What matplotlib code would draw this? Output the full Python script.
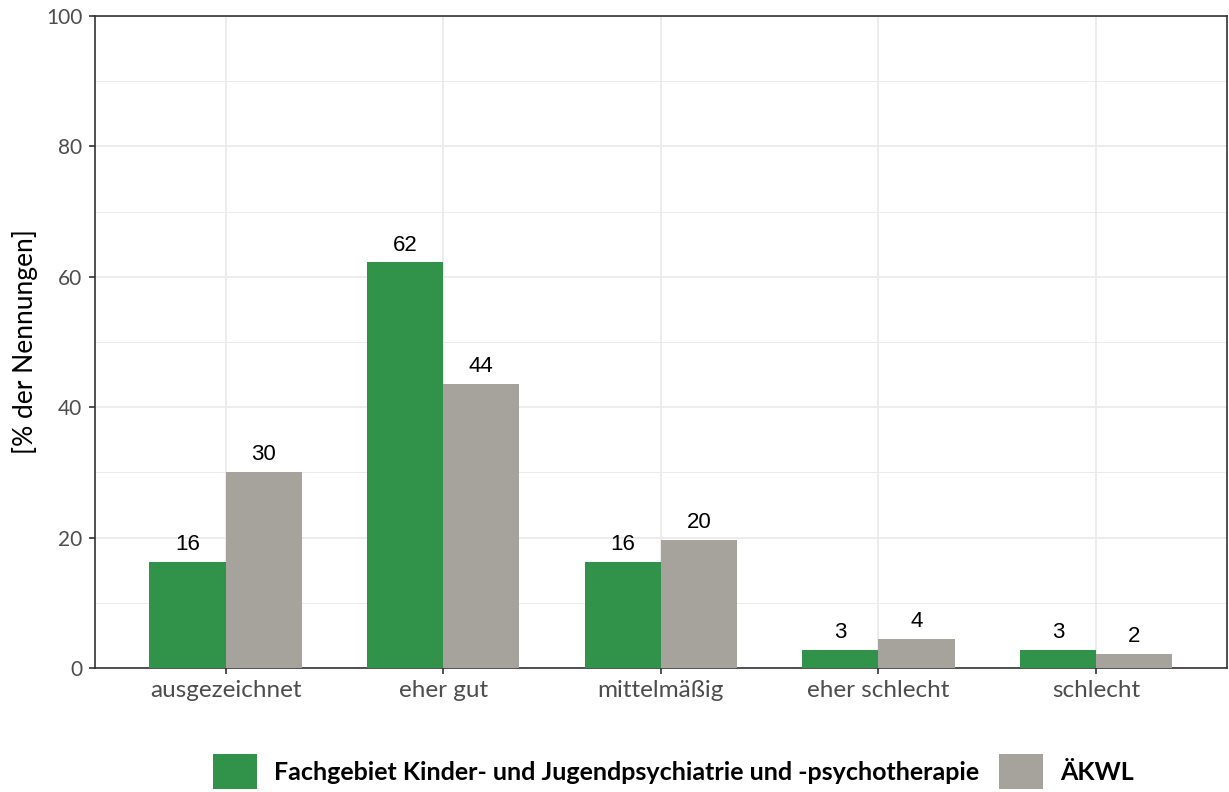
import numpy as np
import matplotlib.pyplot as plt
from matplotlib.patches import Patch

categories = ["ausgezeichnet", "eher gut", "mittelmäßig", "eher schlecht", "schlecht"]
fach = [16.2, 62.2, 16.2, 2.7, 2.7]
aekwl = [30.0, 43.6, 19.7, 4.4, 2.1]
fach_labels = ["16", "62", "16", "3", "3"]
aekwl_labels = ["30", "44", "20", "4", "2"]
series_names = ["Fachgebiet Kinder- und Jugendpsychiatrie und -psychotherapie", "ÄKWL"]

green = "#31924A"
gray = "#A6A39C"

fig = plt.figure(figsize=(12.29, 7.92), dpi=100)
ax = fig.add_axes([0.0773, 0.1566, 0.9207, 0.8232])

x = np.arange(len(categories))
w = 0.35
ax.bar(x - w / 2, fach, width=w, color=green, zorder=3)
ax.bar(x + w / 2, aekwl, width=w, color=gray, zorder=3)

for xi, v, t in zip(x, fach, fach_labels):
    ax.annotate(t, (xi - w / 2, v), xytext=(0, 5), textcoords="offset points",
                ha="center", va="bottom", fontsize=16, family="Liberation Sans")
for xi, v, t in zip(x, aekwl, aekwl_labels):
    ax.annotate(t, (xi + w / 2, v), xytext=(0, 5), textcoords="offset points",
                ha="center", va="bottom", fontsize=16, family="Liberation Sans")

ax.set_xlim(-0.6, 4.6)
ax.set_ylim(0, 100)
ax.set_yticks([0, 20, 40, 60, 80, 100])
ax.set_yticks([10, 30, 50, 70, 90], minor=True)
ax.set_xticks(x)
ax.set_xticklabels(categories, family="Lato", fontsize=17.5, color="#4D4D4D")
for lab in ax.get_yticklabels():
    lab.set_family("Lato")
    lab.set_fontsize(15)
    lab.set_color("#4D4D4D")
ax.tick_params(which="major", length=4, width=1.2, color="#333333", pad=5)
ax.tick_params(which="minor", length=0)
ax.grid(which="major", color="#EBEBEB", linewidth=1.3, zorder=0)
ax.grid(which="minor", axis="y", color="#EBEBEB", linewidth=0.7, zorder=0)
for s in ax.spines.values():
    s.set_color("#333333")
    s.set_linewidth(1.2)
ax.set_ylabel("[% der Nennungen]", family="Lato", fontsize=19, labelpad=6)

handles = [Patch(facecolor=green), Patch(facecolor=gray)]
leg = fig.legend(handles, series_names, loc="center", bbox_to_anchor=(0.548, 0.026),
                 ncol=2, frameon=False, handlelength=1.75, handleheight=1.75,
                 handletextpad=0.7, columnspacing=0.8,
                 prop={"family": "Lato", "weight": "bold", "size": 18})

fig.savefig("out.png", dpi=100)
